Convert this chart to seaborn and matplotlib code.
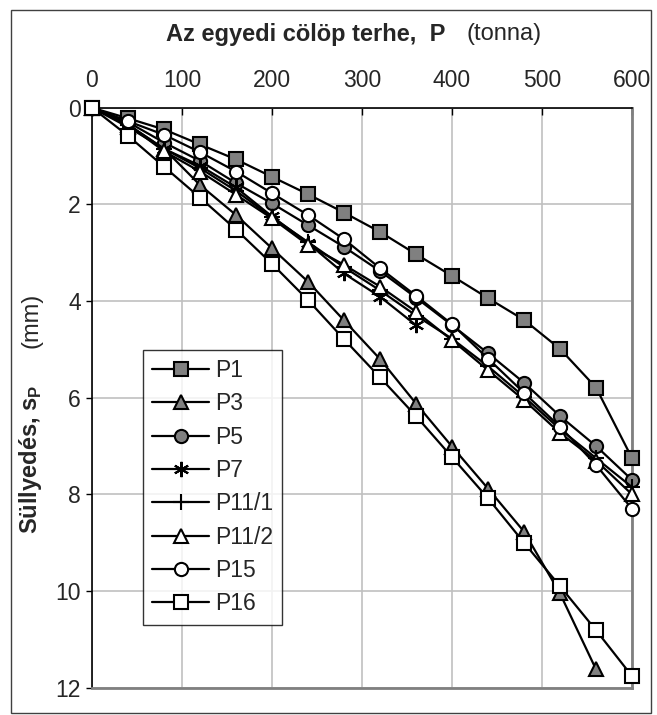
import numpy as np
import pandas as pd
import seaborn as sns
import matplotlib.pyplot as plt
from matplotlib.patches import Rectangle

# load steps (tonna)
loads = [0, 40, 80, 120, 160, 200, 240, 280, 320, 360, 400, 440, 480, 520, 560, 600]

# settlement readings (mm)
p1 = [0, 0.22, 0.45, 0.76, 1.07, 1.43, 1.79, 2.17, 2.57, 3.03, 3.48, 3.94, 4.39, 4.99, 5.79, 7.25]
p3 = [0, 0.40, 0.85, 1.60, 2.22, 2.91, 3.60, 4.40, 5.20, 6.12, 7.01, 7.88, 8.77, 10.05, 11.62]
p5 = [0, 0.30, 0.72, 1.10, 1.56, 1.98, 2.43, 2.88, 3.38, 3.93, 4.50, 5.08, 5.69, 6.38, 7.00, 7.70]
p7 = [0, 0.35, 0.85, 1.20, 1.65, 2.25, 2.80, 3.43, 3.91, 4.50]
p11_1 = [0, 0.35, 0.85, 1.25, 1.72, 2.27, 2.78, 3.30, 3.78, 4.30, 4.78, 5.35, 5.98, 6.65, 7.25, 7.85]
p11_2 = [0, 0.35, 0.90, 1.32, 1.80, 2.29, 2.84, 3.25, 3.70, 4.22, 4.81, 5.43, 6.05, 6.73, 7.30, 8.00]
p15 = [0, 0.28, 0.56, 0.92, 1.32, 1.77, 2.22, 2.72, 3.32, 3.89, 4.48, 5.19, 5.90, 6.60, 7.39, 8.30]
p16 = [0, 0.58, 1.22, 1.86, 2.52, 3.23, 3.98, 4.79, 5.58, 6.38, 7.23, 8.08, 9.00, 9.90, 10.81, 11.76]

series = [
    ("P1", p1, "s", "#808080", 9.5),
    ("P3", p3, "^", "#808080", 9.5),
    ("P5", p5, "o", "#808080", 9.5),
    ("P7", p7, (6, 2, 0), "none", 11),
    ("P11/1", p11_1, "+", "none", 11),
    ("P11/2", p11_2, "^", "white", 9.5),
    ("P15", p15, "o", "white", 9.5),
    ("P16", p16, "s", "white", 9.5),
]

sns.set_style("white")
plt.rcParams['font.family'] = ['Liberation Sans', 'DejaVu Sans']
plt.rcParams['mathtext.fontset'] = 'custom'
plt.rcParams['mathtext.bf'] = 'Liberation Sans:bold'
plt.rcParams['mathtext.rm'] = 'Liberation Sans'

fig = plt.figure(figsize=(6.57, 7.15), dpi=100)
ax = fig.add_axes([92 / 657, 1 - 687.7 / 715, 540 / 657, 580 / 715])

for i, (name, vals, mk, fc, ms) in enumerate(series):
    df = pd.DataFrame({"P": loads[:len(vals)], "s": vals})
    sns.lineplot(data=df, x="P", y="s", ax=ax, color="black", lw=1.6,
                 marker=mk, markersize=ms, markerfacecolor=fc,
                 markeredgecolor="black", markeredgewidth=1.5,
                 label=name, clip_on=False, zorder=3 + i)

ax.set_xlim(0, 600)
ax.set_ylim(12, 0)
ax.set_xticks(range(0, 601, 100))
ax.set_yticks(range(0, 13, 2))
ax.xaxis.tick_top()
ax.grid(True, color="#c0c0c0", lw=1.2)
ax.set_axisbelow(True)
ax.set_xlabel("")
ax.set_ylabel("")
ax.tick_params(axis="x", direction="in", length=5, width=1, pad=11,
               labelsize=16.5, color="black", top=True, bottom=False)
ax.tick_params(axis="y", direction="out", length=4, width=1, pad=4,
               labelsize=16.5, color="black", left=True)
for side in ["left", "top"]:
    ax.spines[side].set_color("black")
    ax.spines[side].set_linewidth(1.2)
for side in ["right", "bottom"]:
    ax.spines[side].set_color("#808080")
    ax.spines[side].set_linewidth(2)

leg = ax.legend(loc="upper left", bbox_to_anchor=(142.7 / 657, 1 - 350 / 715),
                bbox_transform=fig.transFigure, fontsize=16.5, frameon=True,
                fancybox=False, handlelength=2.5, handletextpad=0.25,
                labelspacing=0.45, borderpad=0.4, borderaxespad=0)
leg.get_frame().set_edgecolor("black")
leg.get_frame().set_linewidth(1)

# axis titles: bold part plus normal unit part
fig.text(445 / 657, 1 - 34 / 715, "Az egyedi cölöp terhe,  P",
         fontsize=17, fontweight="bold", ha="right", va="center")
fig.text(466 / 657, 1 - 34 / 715, "(tonna)", fontsize=17, ha="left", va="center")
fig.text(31 / 657, 1 - 459 / 715, r"Süllyedés, s$_\mathbf{P}$",
         fontsize=17, fontweight="bold", rotation=90, ha="center", va="center")
fig.text(31 / 657, 1 - 320 / 715, "(mm)", fontsize=17, rotation=90,
         ha="center", va="center")

fig.patches.append(Rectangle((11 / 657, 1 - 713 / 715), 640 / 657, 703 / 715,
                             transform=fig.transFigure, fill=False,
                             edgecolor="#404040", lw=1))

fig.savefig("out.png", dpi=100)
